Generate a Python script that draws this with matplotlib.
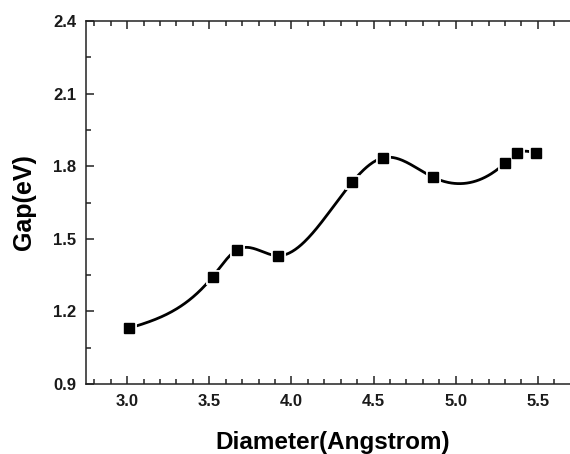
import numpy as np
from matplotlib import pyplot as plt
from matplotlib.ticker import MultipleLocator

# data
diameter = [3.01, 3.52, 3.67, 3.92, 4.37, 4.56, 4.86, 5.30, 5.37, 5.49]
gap = [1.130, 1.343, 1.455, 1.430, 1.734, 1.835, 1.755, 1.813, 1.853, 1.854]

x_ticks = [3.0, 3.5, 4.0, 4.5, 5.0, 5.5]
y_ticks = [0.9, 1.2, 1.5, 1.8, 2.1, 2.4]


def natural_spline(x, y, n=400):
	x = np.asarray(x, float)
	y = np.asarray(y, float)
	k = len(x)
	h = np.diff(x)
	A = np.zeros((k, k))
	b = np.zeros(k)
	A[0, 0] = 1
	A[-1, -1] = 1
	for i in range(1, k - 1):
		A[i, i - 1] = h[i - 1]
		A[i, i] = 2 * (h[i - 1] + h[i])
		A[i, i + 1] = h[i]
		b[i] = 6 * ((y[i + 1] - y[i]) / h[i] - (y[i] - y[i - 1]) / h[i - 1])
	M = np.linalg.solve(A, b)
	xs = np.linspace(x[0], x[-1], n)
	idx = np.clip(np.searchsorted(x, xs) - 1, 0, k - 2)
	x0, x1 = x[idx], x[idx + 1]
	hh = x1 - x0
	ys = (M[idx] * (x1 - xs) ** 3 / (6 * hh) + M[idx + 1] * (xs - x0) ** 3 / (6 * hh)
		+ (y[idx] / hh - M[idx] * hh / 6) * (x1 - xs)
		+ (y[idx + 1] / hh - M[idx + 1] * hh / 6) * (xs - x0))
	return xs, ys


plt.rcParams['font.family'] = ['Liberation Sans', 'DejaVu Sans']
plt.rcParams['font.weight'] = 'bold'

fig = plt.figure(figsize=(5.7, 4.54), dpi=100)
ax = fig.add_axes([86 / 570, 1 - 384 / 454, 493 / 570, 363 / 454])

xs, ys = natural_spline(diameter, gap)
ax.plot(xs, ys, color='black', lw=2.0, zorder=2)
ax.plot(diameter, gap, 's', color='black', markersize=7.2,
		markeredgecolor='white', markeredgewidth=3.5, zorder=3)
ax.plot(diameter, gap, 's', color='black', markersize=7.2, lw=0, zorder=4)

ax.set_xlim(2.75, 5.75)
ax.set_ylim(0.9, 2.4)
ax.set_xticks(x_ticks)
ax.set_yticks(y_ticks)
ax.set_xticklabels(['%.1f' % v for v in x_ticks])
ax.set_yticklabels(['%.1f' % v for v in y_ticks])
ax.xaxis.set_minor_locator(MultipleLocator(0.1))
ax.yaxis.set_minor_locator(MultipleLocator(0.15))
ax.tick_params(which='both', direction='in', top=True, right=False,
			   labelsize=12, width=1.1, colors='#222222', labelcolor='#1a1a1a')
ax.tick_params(which='major', length=6, pad=7)
ax.tick_params(which='minor', length=3.3)
for s in ax.spines.values():
	s.set_linewidth(1.1)
	s.set_color('#222222')
ax.spines['right'].set_visible(False)

ax.set_xlabel('Diameter(Angstrom)', fontsize=17.5, fontweight='bold', labelpad=16)
ax.set_ylabel('Gap(eV)', fontsize=18, fontweight='bold', labelpad=12)

fig.savefig('out.png', dpi=100)
